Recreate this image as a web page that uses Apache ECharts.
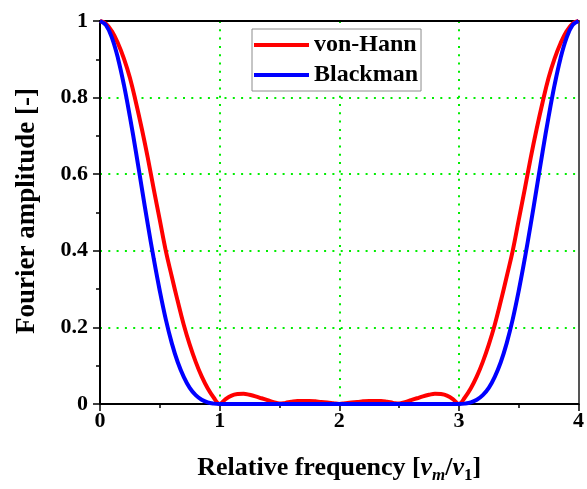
<!DOCTYPE html>
<html>
<head>
<meta charset="utf-8">
<script src="https://cdn.jsdelivr.net/npm/echarts@6/dist/echarts.min.js"></script>
<style>
  html, body { margin: 0; padding: 0; background: #fff; }
  #chart { width: 587px; height: 489px; }
</style>
</head>
<body>
<div id="chart"></div>
<script>
// Relative frequency samples (nu_m / nu_1)
const freq = [
  0, 0.05, 0.1, 0.15, 0.2, 0.25, 0.3, 0.35, 0.4, 0.45, 0.5, 0.55, 0.6, 0.65, 0.7, 0.75, 0.8, 0.85, 0.9, 0.95,
  1, 1.05, 1.1, 1.15, 1.2, 1.25, 1.3, 1.35, 1.4, 1.45, 1.5, 1.55, 1.6, 1.65, 1.7, 1.75, 1.8, 1.85, 1.9, 1.95,
  2, 2.05, 2.1, 2.15, 2.2, 2.25, 2.3, 2.35, 2.4, 2.45, 2.5, 2.55, 2.6, 2.65, 2.7, 2.75, 2.8, 2.85, 2.9, 2.95,
  3, 3.05, 3.1, 3.15, 3.2, 3.25, 3.3, 3.35, 3.4, 3.45, 3.5, 3.55, 3.6, 3.65, 3.7, 3.75, 3.8, 3.85, 3.9, 3.95,
  4
];

// Fourier amplitude of the von-Hann window
const hann = [
  1, 0.993, 0.973, 0.942, 0.902, 0.852, 0.788, 0.718, 0.642, 0.560, 0.480, 0.400, 0.333, 0.268, 0.207, 0.155, 0.110, 0.072, 0.041, 0.017,
  0, 0.013, 0.022, 0.026, 0.027, 0.024, 0.020, 0.015, 0.010, 0.005, 0.001, 0.003, 0.006, 0.008, 0.008, 0.008, 0.007, 0.005, 0.004, 0.002,
  0, 0.002, 0.004, 0.005, 0.007, 0.008, 0.008, 0.008, 0.006, 0.003, 0.001, 0.005, 0.010, 0.015, 0.020, 0.024, 0.027, 0.026, 0.022, 0.013,
  0, 0.017, 0.041, 0.072, 0.110, 0.155, 0.207, 0.268, 0.333, 0.400, 0.480, 0.560, 0.642, 0.718, 0.788, 0.852, 0.902, 0.942, 0.973, 0.993,
  1
];

// Fourier amplitude of the Blackman window
const blackman = [
  1, 0.989, 0.956, 0.903, 0.833, 0.750, 0.659, 0.563, 0.468, 0.378, 0.295, 0.221, 0.159, 0.109, 0.071, 0.042, 0.023, 0.011, 0.004, 0.001,
  0, 0, 0, 0, 0, 0, 0, 0, 0, 0, 0, 0, 0, 0, 0, 0, 0, 0, 0, 0,
  0, 0, 0, 0, 0, 0, 0, 0, 0, 0, 0, 0, 0, 0, 0, 0, 0, 0, 0, 0,
  0, 0.001, 0.004, 0.011, 0.023, 0.042, 0.071, 0.109, 0.159, 0.221, 0.295, 0.378, 0.468, 0.563, 0.659, 0.750, 0.833, 0.903, 0.956, 0.989,
  1
];

const seriesNames = ['von-Hann', 'Blackman'];
const xTicks = { min: 0, max: 4, step: 1 };
const yTicks = { min: 0, max: 1, step: 0.2 };

const FONT = "'Liberation Serif', 'Times New Roman', serif";
const grid = '#00ee00';

const pairs = ys => freq.map((x, i) => [x, ys[i]]);

const chart = echarts.init(document.getElementById('chart'), null, { renderer: 'canvas' });

chart.setOption({
  animation: false,
  backgroundColor: '#ffffff',
  grid: { left: 100, right: 8, top: 21, bottom: 83, containLabel: false },
  legend: {
    orient: 'vertical',
    left: 252,
    top: 29,
    data: seriesNames,
    icon: 'rect',
    itemWidth: 55,
    itemHeight: 4,
    itemGap: 6,
    padding: [4, 3, 4, 2],
    backgroundColor: '#ffffff',
    borderColor: '#8c8c8c',
    borderWidth: 1,
    textStyle: { fontFamily: FONT, fontWeight: 'bold', fontSize: 24, color: '#000', lineHeight: 24 }
  },
  xAxis: [
    {
      type: 'value',
      min: xTicks.min,
      max: xTicks.max,
      interval: xTicks.step,
      name: 'Relative frequency [{i|ν}{sub|m}/{i|ν}{subn|1}]',
      nameLocation: 'middle',
      nameGap: 49,
      nameTextStyle: {
        fontFamily: FONT, fontWeight: 'bold', fontSize: 26, color: '#000',
        rich: {
          i: { fontFamily: FONT, fontWeight: 'bold', fontStyle: 'italic', fontSize: 26, color: '#000' },
          sub: { fontFamily: FONT, fontWeight: 'bold', fontStyle: 'italic', fontSize: 17, color: '#000', padding: [14, 0, 0, 0] },
          subn: { fontFamily: FONT, fontWeight: 'bold', fontSize: 17, color: '#000', padding: [14, 0, 0, 0] }
        }
      },
      axisLine: { show: true, onZero: false, lineStyle: { color: '#000', width: 2 } },
      axisTick: { show: true, inside: false, length: 7, lineStyle: { color: '#000', width: 1.5 } },
      minorTick: { show: true, splitNumber: 2, length: 4, lineStyle: { color: '#000', width: 1.5 } },
      axisLabel: { fontFamily: FONT, fontWeight: 'bold', fontSize: 22, color: '#000', margin: 6 },
      splitLine: { show: true, lineStyle: { color: grid, width: 2, type: [2, 6.3] } }
    },
    {
      type: 'value',
      position: 'top',
      min: xTicks.min,
      max: xTicks.max,
      axisLine: { show: true, onZero: false, lineStyle: { color: '#000', width: 2 } },
      axisTick: { show: false },
      axisLabel: { show: false },
      splitLine: { show: false }
    }
  ],
  yAxis: [
    {
      type: 'value',
      min: yTicks.min,
      max: yTicks.max,
      interval: yTicks.step,
      axisLine: { show: true, onZero: false, lineStyle: { color: '#000', width: 2 } },
      axisTick: { show: true, inside: false, length: 7, lineStyle: { color: '#000', width: 1.5 } },
      minorTick: { show: true, splitNumber: 2, length: 4, lineStyle: { color: '#000', width: 1.5 } },
      axisLabel: { fontFamily: FONT, fontWeight: 'bold', fontSize: 22, color: '#000', margin: 12 },
      splitLine: { show: true, lineStyle: { color: grid, width: 2, type: [2, 6.3] } }
    },
    {
      type: 'value',
      position: 'right',
      min: yTicks.min,
      max: yTicks.max,
      axisLine: { show: true, onZero: false, lineStyle: { color: '#555', width: 2 } },
      axisTick: { show: false },
      axisLabel: { show: false },
      splitLine: { show: false }
    }
  ],
  graphic: [
    {
      type: 'text',
      x: 27,
      y: 211,
      rotation: Math.PI / 2,
      style: {
        text: 'Fourier amplitude [-]',
        fontFamily: FONT,
        fontWeight: 'bold',
        fontSize: 27,
        fill: '#000',
        align: 'center',
        verticalAlign: 'middle'
      }
    }
  ],
  series: [
    {
      name: seriesNames[0],
      type: 'line',
      data: pairs(hann),
      smooth: 0.4,
      symbol: 'none',
      lineStyle: { color: '#ff0000', width: 4 },
      itemStyle: { color: '#ff0000' },
      z: 3
    },
    {
      name: seriesNames[1],
      type: 'line',
      data: pairs(blackman),
      smooth: 0.4,
      symbol: 'none',
      lineStyle: { color: '#0000ff', width: 4 },
      itemStyle: { color: '#0000ff' },
      z: 4
    }
  ]
});
</script>
</body>
</html>
